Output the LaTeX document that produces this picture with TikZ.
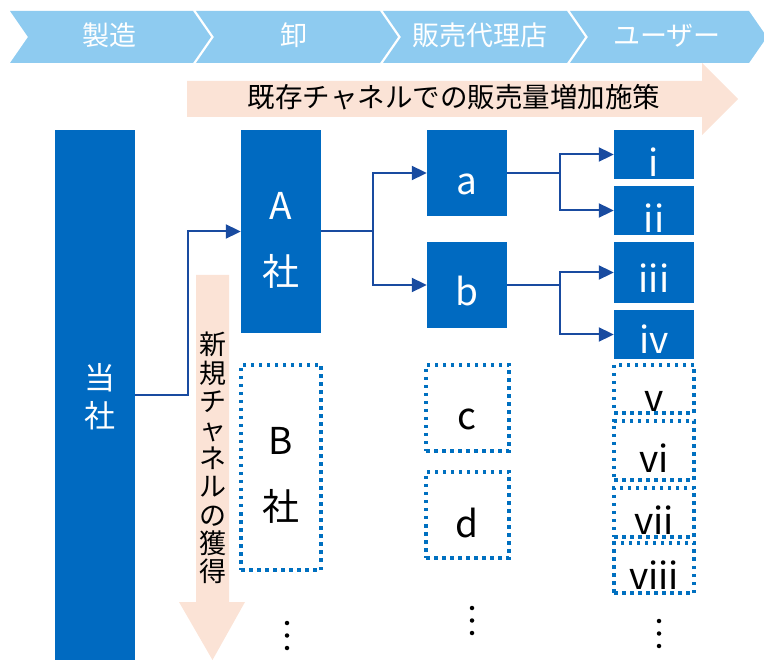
\documentclass[tikz,border=0pt]{standalone}
\usepackage{fontspec}
\newfontfamily\jp{Noto Sans CJK JP}
\usetikzlibrary{arrows.meta,calc}
\definecolor{chev}{RGB}{142,203,240}
\definecolor{peach}{RGB}{251,227,214}
\definecolor{mainblue}{RGB}{0,106,193}
\definecolor{connblue}{RGB}{25,75,160}
\definecolor{dotblue}{RGB}{0,112,192}
\begin{document}
\begin{tikzpicture}[x=1pt,y=-1pt,
  chevtxt/.style={text=white, font=\jp\fontsize{27}{30}\selectfont, anchor=base, inner sep=0},
  solidbox/.style={rectangle, fill=mainblue, inner sep=0, minimum width=80pt},
  dotbox/.style={rectangle, draw=dotblue, line width=3.5pt, dash pattern=on 3.5pt off 4.5pt, inner sep=0, minimum width=80pt},
  boxlbl/.style={font=\jp\fontsize{37}{44}\selectfont, anchor=base, inner sep=0},
  wlbl/.style={boxlbl, text=white},
  conn/.style={draw=connblue, line width=2pt},
  arr/.style={conn, -{Triangle[length=15pt,width=14pt]}},
  dotmark/.style={circle, fill=black, inner sep=0, minimum size=4.5pt},
]
\clip (0,0) rectangle (764,660);
% chevrons
\foreach \L/\R in {10/193,196/380,383/567,570/749}
  \fill[chev] (\L,11) -- (\R,11) -- ({\R+18},37) -- (\R,63) -- (\L,63) -- ({\L+18},37) -- cycle;
\node[chevtxt] (ch1) at (109,46) {製造};
\node[chevtxt] (ch2) at (294,46) {卸};
\node[chevtxt] (ch3) at (480,46) {販売代理店};
\node[chevtxt] (ch4) at (667,46) {ユーザー};
% banner arrow
\fill[peach] (187,81) -- (702,81) -- (702,63) -- (738,99) -- (702,135) -- (702,117) -- (187,117) -- cycle;
\node[font=\jp\fontsize{27.5}{30}\selectfont, anchor=base, inner sep=0] (bannertxt) at (454,108) {既存チャネルでの販売量増加施策};
% vertical arrow
\fill[peach] (196,275) -- (229,275) -- (229,602) -- (245,602) -- (212.5,660) -- (179,602) -- (196,602) -- cycle;
\node[font=\jp\fontsize{27}{28.4}\selectfont, align=center, anchor=north, inner sep=0] (vtxt) at (213,332) {新\\規\\チ\\ャ\\ネ\\ル\\の\\獲\\得};
% own company
\node[solidbox, minimum height=530pt] (tousha) at (95,395) {};
\node[font=\jp\fontsize{31}{38}\selectfont, text=white, anchor=base, inner sep=0] (toushaA) at (100,390) {当};
\node[font=\jp\fontsize{31}{38}\selectfont, text=white, anchor=base, inner sep=0] (toushaB) at (100,428) {社};
% wholesalers
\node[solidbox, minimum height=203pt] (A) at (281,231.5) {};
\node[wlbl] (AL1) at (281,220) {A};
\node[wlbl] (AL2) at (281,286) {社};
\node[dotbox, minimum height=205pt] (B) at (281,467.5) {};
\node[boxlbl] (BL1) at (281,455) {B};
\node[boxlbl] (BL2) at (281,521) {社};
% agents
\node[solidbox, minimum height=86pt] (a) at (467,173) {};
\node[wlbl] (aL) at (467,195) {a};
\node[solidbox, minimum height=86pt] (b) at (467,285) {};
\node[wlbl] (bL) at (467,306) {b};
\node[dotbox, minimum width=83pt, minimum height=86pt] (c) at (467.5,408) {};
\node[boxlbl] (cL) at (467,430) {c};
\node[dotbox, minimum width=83pt, minimum height=86pt] (d) at (467.5,515) {};
\node[boxlbl] (dL) at (467,537) {d};
% users
\node[solidbox, minimum height=49pt] (u1) at (654,154.5) {};
\node[wlbl] (u1L) at (654,177) {i};
\node[solidbox, minimum height=49pt] (u2) at (654,210.5) {};
\node[wlbl] (u2L) at (654,233) {ii};
\node[solidbox, minimum height=61pt] (u3) at (654,272.5) {};
\node[wlbl] (u3L) at (654,293) {iii};
\node[solidbox, minimum height=49pt] (u4) at (654,334.5) {};
\node[wlbl] (u4L) at (654,354) {iv};
\node[dotbox, minimum height=48pt] (u5) at (654,389) {};
\node[boxlbl] (u5L) at (654,412) {v};
\node[dotbox, minimum height=59pt] (u6) at (654,450.5) {};
\node[boxlbl] (u6L) at (654,473) {vi};
\node[dotbox, minimum height=49pt] (u7) at (654,512.5) {};
\node[boxlbl] (u7L) at (654,535) {vii};
\node[dotbox, minimum height=50pt] (u8) at (654,568) {};
\node[boxlbl] (u8L) at (654,590) {viii};
% ellipses
\foreach \y [count=\k] in {623,635.5,648} \node[dotmark] (dB\k) at (287,\y) {};
\foreach \y [count=\k] in {608,620.5,633} \node[dotmark] (dC\k) at (472,\y) {};
\foreach \y [count=\k] in {621,633.5,646} \node[dotmark] (dU\k) at (659,\y) {};
% connectors
\draw[arr] (tousha.east) -- ++(53,0) |- (A.west);
\draw[conn] (A.east) -- ++(52,0) coordinate (j1);
\draw[arr] (j1) |- (a.west);
\draw[arr] (j1) |- (b.west);
\draw[conn] (a.east) -- ++(53,0) coordinate (j2);
\draw[arr] (j2) |- (u1.west);
\draw[arr] (j2) |- (u2.west);
\draw[conn] (b.east) -- ++(53,0) coordinate (j3);
\draw[arr] (j3) |- (u3.west);
\draw[arr] (j3) |- (u4.west);
\end{tikzpicture}
\end{document}
